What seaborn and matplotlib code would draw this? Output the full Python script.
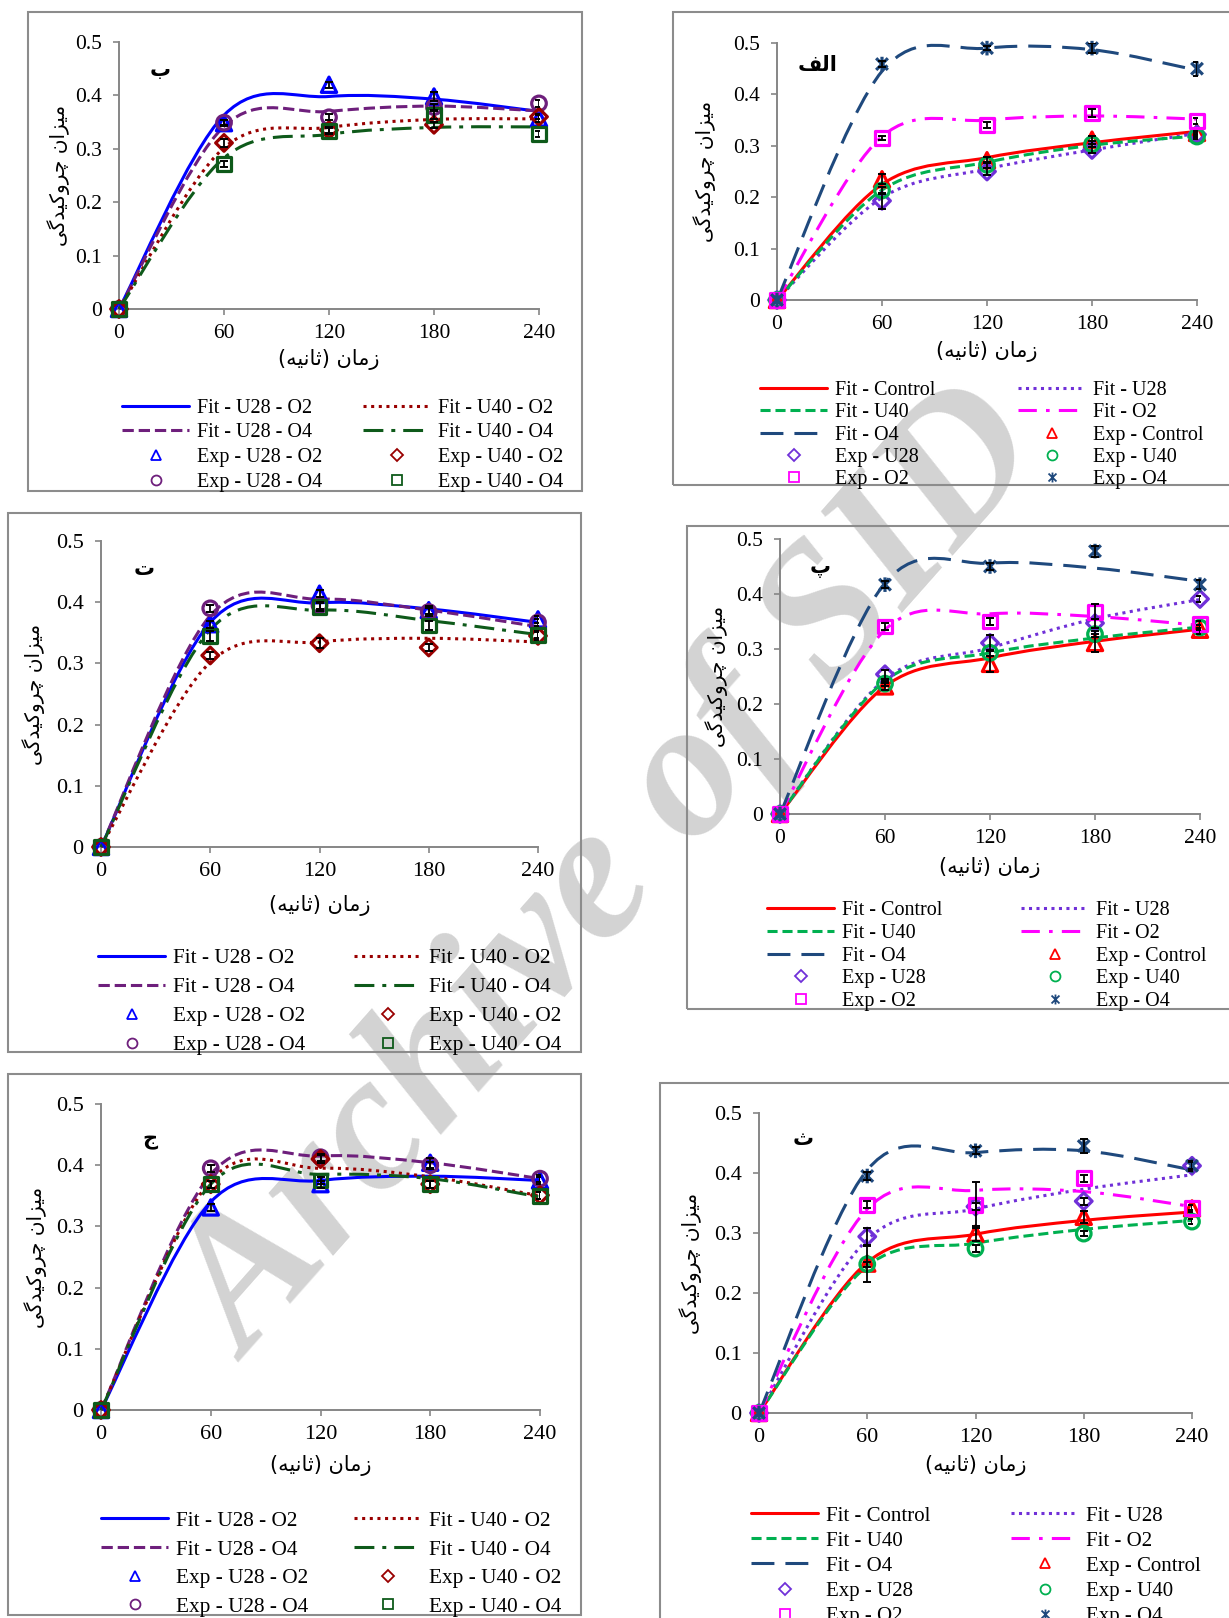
import numpy as np
import matplotlib
matplotlib.use('Agg')
import matplotlib.pyplot as plt
import seaborn as sns
from matplotlib.path import Path
from matplotlib.patches import PathPatch, Rectangle
from matplotlib.lines import Line2D

# زمان (ثانیه)
times = [0, 60, 120, 180, 240]

# ---------------- شکل الف ----------------
alef_exp = {'Control': [0, 0.235, 0.272, 0.312, 0.325],
            'U28': [0, 0.193, 0.250, 0.292, 0.322],
            'U40': [0, 0.213, 0.263, 0.303, 0.318],
            'O2': [0, 0.316, 0.341, 0.364, 0.349],
            'O4': [0, 0.459, 0.490, 0.490, 0.450]}
alef_err = {'Control': [0, 0.010, 0.006, 0.008, 0.004],
            'U28': [0, 0.016, 0.006, 0.006, 0.004],
            'U40': [0, 0.006, 0.006, 0.006, 0.004],
            'O2': [0, 0.004, 0.006, 0.008, 0.006],
            'O4': [0, 0.006, 0.004, 0.010, 0.014]}
alef_fit = {'Control': [0, 0.225, 0.277, 0.306, 0.328],
            'U28': [0, 0.199, 0.255, 0.292, 0.324],
            'U40': [0, 0.214, 0.268, 0.301, 0.319],
            'O2': [0, 0.318, 0.350, 0.358, 0.352],
            'O4': [0, 0.445, 0.490, 0.487, 0.447]}

# ---------------- شکل ب ----------------
be_exp = {'U28 - O2': [0, 0.348, 0.420, 0.398, 0.357],
          'U28 - O4': [0, 0.349, 0.359, 0.378, 0.385],
          'U40 - O2': [0, 0.311, 0.335, 0.345, 0.360],
          'U40 - O4': [0, 0.271, 0.333, 0.363, 0.328]}
be_err = {'U28 - O2': [0, 0.006, 0.006, 0.008, 0.006],
          'U28 - O4': [0, 0.005, 0.006, 0.006, 0.006],
          'U40 - O2': [0, 0.008, 0.006, 0.006, 0.005],
          'U40 - O4': [0, 0.006, 0.006, 0.008, 0.006]}
be_fit = {'U28 - O2': [0, 0.363, 0.398, 0.393, 0.370],
          'U28 - O4': [0, 0.342, 0.370, 0.380, 0.371],
          'U40 - O2': [0, 0.302, 0.340, 0.355, 0.356],
          'U40 - O4': [0, 0.283, 0.327, 0.340, 0.341]}

# ---------------- شکل پ ----------------
pe_exp = {'Control': [0, 0.232, 0.273, 0.311, 0.335],
          'U28': [0, 0.254, 0.311, 0.347, 0.391],
          'U40': [0, 0.237, 0.293, 0.327, 0.339],
          'O2': [0, 0.341, 0.350, 0.368, 0.345],
          'O4': [0, 0.417, 0.450, 0.478, 0.417]}
pe_err = {'Control': [0, 0.006, 0.014, 0.016, 0.008],
          'U28': [0, 0.008, 0.014, 0.008, 0.006],
          'U40': [0, 0.005, 0.005, 0.005, 0.005],
          'O2': [0, 0.006, 0.006, 0.014, 0.006],
          'O4': [0, 0.006, 0.006, 0.010, 0.008]}
pe_fit = {'Control': [0, 0.232, 0.284, 0.314, 0.336],
          'U28': [0, 0.245, 0.302, 0.355, 0.390],
          'U40': [0, 0.242, 0.293, 0.320, 0.340],
          'O2': [0, 0.335, 0.364, 0.359, 0.343],
          'O4': [0, 0.420, 0.456, 0.447, 0.423]}

# ---------------- شکل ت ----------------
te_exp = {'U28 - O2': [0, 0.364, 0.414, 0.387, 0.372],
          'U28 - O4': [0, 0.390, 0.395, 0.384, 0.367],
          'U40 - O2': [0, 0.313, 0.333, 0.326, 0.345],
          'U40 - O4': [0, 0.345, 0.392, 0.362, 0.347]}
te_err = {'U28 - O2': [0, 0.006, 0.006, 0.006, 0.006],
          'U28 - O4': [0, 0.006, 0.006, 0.006, 0.006],
          'U40 - O2': [0, 0.006, 0.008, 0.006, 0.006],
          'U40 - O4': [0, 0.008, 0.006, 0.008, 0.006]}
te_fit = {'U28 - O2': [0, 0.367, 0.399, 0.389, 0.367],
          'U28 - O4': [0, 0.378, 0.405, 0.387, 0.360],
          'U40 - O2': [0, 0.302, 0.335, 0.341, 0.335],
          'U40 - O4': [0, 0.355, 0.387, 0.370, 0.347]}

# ---------------- شکل ث ----------------
se_exp = {'Control': [0, 0.249, 0.299, 0.327, 0.341],
          'U28': [0, 0.294, 0.344, 0.353, 0.412],
          'U40': [0, 0.248, 0.274, 0.299, 0.319],
          'O2': [0, 0.347, 0.347, 0.391, 0.342],
          'O4': [0, 0.395, 0.437, 0.445, 0.412]}
se_err = {'Control': [0, 0.030, 0.012, 0.010, 0.006],
          'U28': [0, 0.014, 0.006, 0.006, 0.006],
          'U40': [0, 0.004, 0.006, 0.004, 0.004],
          'O2': [0, 0.006, 0.038, 0.006, 0.004],
          'O4': [0, 0.006, 0.006, 0.012, 0.008]}
se_fit = {'Control': [0, 0.251, 0.298, 0.321, 0.335],
          'U28': [0, 0.289, 0.340, 0.373, 0.397],
          'U40': [0, 0.245, 0.283, 0.306, 0.321],
          'O2': [0, 0.340, 0.371, 0.369, 0.344],
          'O4': [0, 0.405, 0.434, 0.437, 0.405]}

# ---------------- شکل ج ----------------
jim_exp = {'U28 - O2': [0, 0.331, 0.369, 0.404, 0.375],
           'U28 - O4': [0, 0.395, 0.413, 0.400, 0.378],
           'U40 - O2': [0, 0.369, 0.410, 0.369, 0.351],
           'U40 - O4': [0, 0.369, 0.375, 0.369, 0.350]}
jim_err = {'U28 - O2': [0, 0.006, 0.006, 0.008, 0.006],
           'U28 - O4': [0, 0.006, 0.006, 0.006, 0.006],
           'U40 - O2': [0, 0.006, 0.006, 0.006, 0.006],
           'U40 - O4': [0, 0.006, 0.006, 0.006, 0.006]}
jim_fit = {'U28 - O2': [0, 0.340, 0.375, 0.382, 0.375],
           'U28 - O4': [0, 0.385, 0.415, 0.404, 0.378],
           'U40 - O2': [0, 0.375, 0.395, 0.381, 0.350],
           'U40 - O4': [0, 0.369, 0.385, 0.378, 0.348]}

yticks = [0, 0.1, 0.2, 0.3, 0.4, 0.5]
ytick_labels = ['0', '0.1', '0.2', '0.3', '0.4', '0.5']

# متن فارسی به صورت حروف شکل‌یافته (چپ به راست برای نمایش)
xlabel_fa = '(\uFEEA\uFEF4\uFEE7\uFE8E\uFE9B) \uFEE5\uFE8E\uFEE3\uFEAF'          # زمان (ثانیه)
ylabel_fa = ('\uFEF0\uFB94\uFEAA\uFEF4\uFEDB\uFEED\uFEAE\uFB7C'
             ' \uFEE5\uFE8D\uFEB0\uFEF4\uFEE3')                                  # میزان چروکیدگی
letters = {'alef': '\uFED2\uFEDF\uFE8D', 'be': '\u0628', 'pe': '\u067E',
           'te': '\u062A', 'se': '\u062B', 'jim': '\u062C'}

# نشانگر ستاره اکسل (x با خط عمودی)
star = Path([(-1, -1), (1, 1), (-1, 1), (1, -1), (0, -1.25), (0, 1.25)],
            [Path.MOVETO, Path.LINETO, Path.MOVETO, Path.LINETO, Path.MOVETO, Path.LINETO])

# سبک سری‌ها
right_order = ['Control', 'U28', 'U40', 'O2', 'O4']
right_style = {
    'Control': dict(color='#FF0000', ls='-', marker='^', ms=11),
    'U28': dict(color='#7030D8', ls=(0, (1.0, 1.45)), marker='D', ms=8.5),
    'U40': dict(color='#00B050', ls=(0, (3.3, 1.6)), marker='o', ms=10.5),
    'O2': dict(color='#FF00FF', ls=(0, (6, 3, 1.2, 3)), marker='s', ms=10),
    'O4': dict(color='#1F497D', ls=(0, (7.5, 3.6)), marker=star, ms=10.5),
}
left_order = ['U28 - O2', 'U28 - O4', 'U40 - O2', 'U40 - O4']
left_style = {
    'U28 - O2': dict(color='#0000FF', ls='-', marker='^', ms=11),
    'U28 - O4': dict(color='#6E1F7C', ls=(0, (3.7, 1.6)), marker='o', ms=10.5),
    'U40 - O2': dict(color='#990000', ls=(0, (1.0, 1.5)), marker='D', ms=8.5),
    'U40 - O4': dict(color='#0E5A1A', ls=(0, (6.5, 2.6, 1.3, 2.6)), marker='s', ms=10),
}

sns.set_theme(style='white', rc={'text.color': 'black', 'xtick.color': 'black',
                                 'ytick.color': 'black', 'axes.labelcolor': 'black'})
plt.rcParams['font.family'] = ['Liberation Serif', 'DejaVu Sans']
FA = ['DejaVu Sans']

W, H = 1229, 1618
fig = plt.figure(figsize=(W / 100, H / 100), dpi=100)
LW = 2.2
AXC = '#868686'


def smooth_path(x, y):
    # منحنی هموار (مانند اکسل) با بزیه مکعبی
    P = np.column_stack([x, y]).astype(float)
    n = len(P)
    verts = [P[0]]
    codes = [Path.MOVETO]
    for i in range(n - 1):
        a = P[max(i - 1, 0)]
        d = P[min(i + 2, n - 1)]
        verts += [P[i] + (P[i + 1] - a) / 6, P[i + 1] - (d - P[i]) / 6, P[i + 1]]
        codes += [Path.CURVE4] * 3
    return Path(verts, codes)


# نماد پس‌زمینه
fig.text(0.500, 0.457, 'Archive of SID', rotation=48.5, fontsize=140,
         fontweight='bold', fontstyle='italic', family='Liberation Serif',
         color='#D3D3D3', ha='center', va='center', zorder=-1)

renderer = fig.canvas.get_renderer()


def text_height(fs):
    t = fig.text(0, 0, 'Exp - U28', fontsize=fs, family='Liberation Serif')
    h = t.get_window_extent(renderer).height
    t.remove()
    return h


def draw_panel(exp, err, fit, order, styles, prefix, cfg):
    L, T, R, B = cfg['ax']
    fl, ft, fr, fb = cfg['frame']
    fig.add_artist(Rectangle((fl / W, 1 - fb / H), (fr - fl) / W, (fb - ft) / H,
                             transform=fig.transFigure, fill=False,
                             edgecolor='#8C8C8C', lw=1.5, zorder=1))
    ax = fig.add_axes([L / W, 1 - B / H, (R - L) / W, (B - T) / H])
    ax.set_facecolor('none')
    for name in order:
        st = styles[name]
        ax.add_patch(PathPatch(smooth_path(times, fit[name]), fill=False,
                               edgecolor=st['color'], lw=LW, linestyle=st['ls'],
                               capstyle='butt', joinstyle='round', zorder=3,
                               clip_on=False))
    for name in order:
        st = styles[name]
        sns.scatterplot(x=times, y=exp[name], ax=ax, marker=st['marker'],
                        s=st['ms'] ** 2, color=st['color'], facecolors='none',
                        edgecolor=st['color'], linewidth=2.3,
                        legend=False, clip_on=False, zorder=4)
        e = np.array(err[name])
        m = e > 0
        ax.errorbar(np.array(times)[m], np.array(exp[name])[m], yerr=e[m],
                    fmt='none', ecolor='black', elinewidth=1.3, capsize=3.2,
                    capthick=1.4, zorder=5)
    ax.set_xlim(0, 240)
    ax.set_ylim(0, 0.5)
    ax.set_xticks(times)
    ax.set_xticklabels([str(t) for t in times])
    ax.set_yticks(yticks)
    ax.set_yticklabels(ytick_labels)
    ax.set_xlabel('')
    ax.set_ylabel('')
    for s in ['top', 'right']:
        ax.spines[s].set_visible(False)
    for s in ['left', 'bottom']:
        ax.spines[s].set_color(AXC)
        ax.spines[s].set_linewidth(1.4)
    ax.tick_params(axis='both', direction='out', length=4, width=1.2, color=AXC,
                   labelsize=cfg['tfs'])
    ax.tick_params(axis='y', pad=8.5, left=True)
    ax.tick_params(axis='x', pad=7, bottom=True)
    aw, ah = R - L, B - T
    ax.text((cfg['ylab_x'] - L) / aw, 0.5, ylabel_fa, rotation=90, family=FA,
            fontsize=14.5, ha='center', va='center', transform=ax.transAxes)
    ax.text(0.5, (B - cfg['xlab_y']) / ah, xlabel_fa, family=FA, fontsize=15,
            ha='center', va='center', transform=ax.transAxes)
    lx, ly = cfg['letter_xy']
    fig.text(lx / W, 1 - ly / H, cfg['letter'], family=FA, fontsize=15,
             fontweight='bold', ha='center', va='center')

    # راهنما
    items = []
    for name in order:
        st = styles[name]
        items.append((Line2D([], [], color=st['color'], lw=LW, ls=st['ls']),
                      'Fit - ' + name))
    for name in order:
        st = styles[name]
        items.append((Line2D([], [], ls='none', marker=st['marker'], ms=st['ms'] * 0.68,
                             mfc='none', mec=st['color'], mew=1.3),
                      'Exp - ' + name))
    if prefix == 'right':
        cols = [items[0::2], items[1::2]]
    else:
        cols = [[items[0], items[1], items[4], items[5]],
                [items[2], items[3], items[6], items[7]]]
    fs = cfg['lfs']
    fpx = fs * 100 / 72
    h = text_height(fs)
    spacing = (cfg['pitch'] - h) / fpx
    for col, x0 in zip(cols, cfg['leg_x']):
        fig.legend([c[0] for c in col], [c[1] for c in col], loc='upper left',
                   bbox_to_anchor=(x0 / W, 1 - (cfg['leg_y'] + 2.5 - h / 2) / H),
                   bbox_transform=fig.transFigure, frameon=False, borderpad=0,
                   borderaxespad=0, handlelength=67 / fpx, handletextpad=8 / fpx,
                   labelspacing=spacing, prop={'family': 'Liberation Serif', 'size': fs})


layout = {
    'be': dict(ax=(119, 42, 539, 309), frame=(28, 12, 582, 491), ylab_x=59, xlab_y=359,
               letter_xy=(160, 70), leg_x=(122, 363), leg_y=405.5, pitch=24.8,
               lfs=14.5, tfs=15.5),
    'alef': dict(ax=(777, 43, 1197, 300), frame=(673, 12, 1240, 485), ylab_x=705,
                 xlab_y=352, letter_xy=(818, 65), leg_x=(760, 1018), leg_y=388,
                 pitch=22.2, lfs=14.5, tfs=15.5),
    'te': dict(ax=(101, 541, 538, 847), frame=(8, 513, 581, 1052), ylab_x=34, xlab_y=905,
               letter_xy=(144, 569), leg_x=(98, 354), leg_y=955.5, pitch=28.1,
               lfs=15.3, tfs=16),
    'pe': dict(ax=(780, 539, 1200, 814), frame=(687, 526, 1240, 1009), ylab_x=717,
               xlab_y=867, letter_xy=(820, 568), leg_x=(767, 1021), leg_y=908,
               pitch=22.7, lfs=14.5, tfs=15.5),
    'jim': dict(ax=(101, 1104, 540, 1410), frame=(8, 1074, 581, 1615), ylab_x=36,
                xlab_y=1466, letter_xy=(150, 1140), leg_x=(101, 354), leg_y=1518,
                pitch=27.8, lfs=15.3, tfs=16),
    'se': dict(ax=(759, 1113, 1192, 1413), frame=(660, 1083, 1240, 1640), ylab_x=691,
               xlab_y=1466, letter_xy=(803, 1139), leg_x=(751, 1011), leg_y=1513,
               pitch=24.5, lfs=15, tfs=16),
}
for key in layout:
    layout[key]['letter'] = letters[key]

draw_panel(be_exp, be_err, be_fit, left_order, left_style, 'left', layout['be'])
draw_panel(alef_exp, alef_err, alef_fit, right_order, right_style, 'right', layout['alef'])
draw_panel(te_exp, te_err, te_fit, left_order, left_style, 'left', layout['te'])
draw_panel(pe_exp, pe_err, pe_fit, right_order, right_style, 'right', layout['pe'])
draw_panel(jim_exp, jim_err, jim_fit, left_order, left_style, 'left', layout['jim'])
draw_panel(se_exp, se_err, se_fit, right_order, right_style, 'right', layout['se'])

fig.savefig('out.png', dpi=100)
